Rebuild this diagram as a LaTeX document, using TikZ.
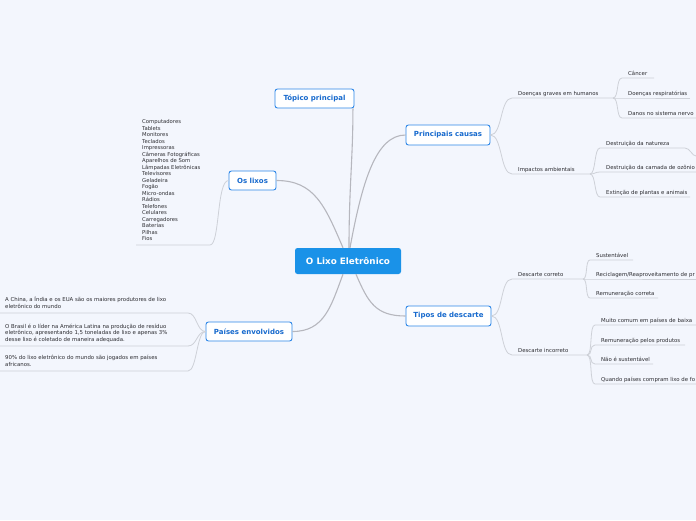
\documentclass[tikz,border=0pt]{standalone}
\usepackage{fontspec}
\setmainfont{DejaVu Sans}
\definecolor{bgc}{RGB}{243,246,253}
\definecolor{ctrfill}{RGB}{26,146,232}
\definecolor{topicline}{RGB}{45,135,232}
\definecolor{topictext}{RGB}{22,105,205}
\definecolor{mainline}{RGB}{182,183,190}
\definecolor{subline}{RGB}{206,209,216}
\definecolor{txt}{RGB}{45,45,50}
\begin{document}
\begin{tikzpicture}[x=1pt,y=-1pt,
  ctrbox/.style={rectangle, rounded corners=2.5pt, fill=ctrfill, text=white,
    font=\fontsize{8.8}{9}\bfseries, minimum width=106pt, minimum height=26pt, inner sep=0pt},
  topic/.style={rectangle, rounded corners=2.5pt, draw=topicline, line width=0.9pt, fill=white,
    text=topictext, font=\fontsize{7}{8}\bfseries, minimum height=19pt, inner sep=0pt},
  leaf/.style={anchor=south west, inner xsep=6pt, inner ysep=2.5pt, text depth=0pt,
    text=txt, font=\fontsize{5.4}{6}\selectfont},
  block/.style={anchor=south west, inner xsep=6pt, inner ysep=4pt, text depth=0pt,
    align=left, text=txt, font=\fontsize{5.4}{6.9}\selectfont},
  mainc/.style={draw=mainline, line width=1.1pt},
  sub/.style={draw=subline, line width=0.8pt}
]
\fill[bgc] (0,0) rectangle (696,520);
\useasboundingbox (0,0) rectangle (696,520);

% main nodes
\node[ctrbox] (ctr) at (348,261) {O Lixo Eletrônico};
\node[topic, minimum width=79pt] (tp) at (314.5,98.5) {Tópico principal};
\node[topic, minimum width=84pt, minimum height=20pt] (pc) at (448,135) {Principais causas};
\node[topic, minimum width=47pt] (ol) at (252.5,180.5) {Os lixos};
\node[topic, minimum width=86pt] (pe) at (249,331.5) {Países envolvidos};
\node[topic, minimum width=85pt, minimum height=20pt] (td) at (448.5,316) {Tipos de descarte};

% main connectors
\draw[mainc] ([xshift=1pt]ctr.north) .. controls +(0,-60) and +(0,50) .. ([xshift=-1.5pt]tp.south east);
\draw[mainc] ([xshift=2pt]ctr.north) .. controls +(12,-65) and +(-30,0) .. (pc.west);
\draw[mainc] ([xshift=-5pt]ctr.north) .. controls +(-18,-42) and +(38,0) .. (ol.east);
\draw[mainc] ([xshift=-5pt]ctr.south) .. controls +(-12,32) and +(32,0) .. (pe.west -| pe.east);
\draw[mainc] ([xshift=8pt]ctr.south) .. controls +(12,28) and +(-30,0) .. (td.west);

% Principais causas
\node[leaf] (dg) at (512,98) {Doenças graves em humanos};
\node[leaf] (ia) at (512,174) {Impactos ambientais};
\draw[sub] (pc.east) .. controls +(12,0) and +(-12,0) .. (dg.south west) -- ++(101,0) coordinate (dge);
\draw[sub] (pc.east) .. controls +(12,0) and +(-12,0) .. (ia.south west) -- ++(78,0) coordinate (iae);

\node[leaf] (ca) at (622,78) {Câncer};
\node[leaf] (dr) at (622,98) {Doenças respiratórias};
\node[leaf] (dn) at (622,118) {Danos no sistema nervo};
\draw[sub] (dge) .. controls +(6,0) and +(-6,0) .. (ca.south west) -- ++(32,0);
\draw[sub] (dge) -- (dr.south west) -- ++(68,0);
\draw[sub] (dge) .. controls +(6,0) and +(-6,0) .. (dn.south west) -- ++(74,0);

\node[leaf] (dnat) at (600,148) {Destruição da natureza};
\node[leaf] (dco) at (600,172) {Destruição da camada de ozônio};
\node[leaf] (ext) at (600,197) {Extinção de plantas e animais};
\coordinate (dnx) at (696,156);
\draw[sub] (iae) .. controls +(6,0) and +(-6,0) .. (dnat.south west) -- ++(85,0) .. controls +(5,0) and +(-4,0) .. (dnx);
\draw[sub] (iae) .. controls +(5,0) and +(-5,0) .. (dco.south west) -- ++(96,0);
\draw[sub] (iae) .. controls +(6,0) and +(-6,0) .. (ext.south west) -- ++(90,0);

% Tipos de descarte
\node[leaf] (dc) at (512,279) {Descarte correto};
\node[leaf] (di) at (512,355) {Descarte incorreto};
\draw[sub] (td.east) .. controls +(12,0) and +(-12,0) .. (dc.south west) -- ++(71,0) coordinate (dce);
\draw[sub] (td.east) .. controls +(12,0) and +(-12,0) .. (di.south west) -- ++(75,0) coordinate (die);

\node[leaf] (su) at (590,260) {Sustentável};
\node[leaf] (re) at (590,279) {Reciclagem/Reaproveitamento de pr};
\node[leaf] (rc) at (590,298) {Remuneração correta};
\draw[sub] (dce) .. controls +(5,0) and +(-5,0) .. (su.south west) -- ++(43,0);
\draw[sub] (dce) -- (re.south west) -- ++(106,0);
\draw[sub] (dce) .. controls +(5,0) and +(-5,0) .. (rc.south west) -- ++(68,0);

\node[leaf] (mc) at (595,325) {Muito comum em países de baixa};
\node[leaf] (rp) at (595,345) {Remuneração pelos produtos};
\node[leaf] (ns) at (595,364) {Não é sustentável};
\node[leaf] (qp) at (595,384) {Quando países compram lixo de fo};
\draw[sub] (die) .. controls +(6,0) and +(-6,0) .. (mc.south west) -- ++(101,0);
\draw[sub] (die) .. controls +(6,0) and +(-6,0) .. (rp.south west) -- ++(90,0);
\draw[sub] (die) .. controls +(6,0) and +(-6,0) .. (ns.south west) -- ++(58,0);
\draw[sub] (die) .. controls +(6,0) and +(-6,0) .. (qp.south west) -- ++(101,0);

% Os lixos
\node[block, font=\fontsize{5.3}{6.5}\selectfont] (lst) at (136,245) {Computadores\\Tablets\\Monitores\\Teclados\\Impressoras\\Câmeras Fotográficas\\Aparelhos de Som\\Lâmpadas Eletrônicas\\Televisores\\Geladeira\\Fogão\\Micro-ondas\\Rádios\\Telefones\\Celulares\\Carregadores\\Baterias\\Pilhas\\Fios};
\draw[sub] (lst.south west) -- ++(74,0) .. controls +(10,0) and +(-12,0) .. (ol.west);

% Países envolvidos
\node[block] (b1) at (-1,313) {A China, a Índia e os EUA são os maiores produtores de lixo\\eletrônico do mundo};
\node[block] (b2) at (-1,346) {O Brasil é o líder na América Latina na produção de resíduo\\eletrônico, apresentando 1,5 toneladas de lixo e apenas 3\%\\desse lixo é coletado de maneira adequada.};
\node[block] (b3) at (-1,371) {90\% do lixo eletrônico do mundo são jogados em países\\africanos.};
\draw[sub] (b1.south west) -- ++(189,0) .. controls +(9,0) and +(-9,0) .. (pe.west);
\draw[sub] (b2.south west) -- ++(189,0) .. controls +(9,0) and +(-9,0) .. (pe.west);
\draw[sub] (b3.south west) -- ++(189,0) .. controls +(9,0) and +(-9,0) .. (pe.west);
\end{tikzpicture}
\end{document}
